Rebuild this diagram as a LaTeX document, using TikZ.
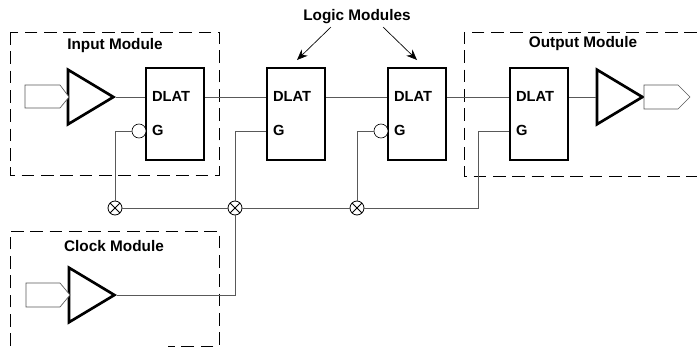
\documentclass[tikz,border=0pt]{standalone}
\usepackage{fontspec}
\setmainfont{Liberation Sans}
\usetikzlibrary{shapes.geometric,arrows.meta}
\tikzset{
  px/.style={x=0.75pt,y=-0.75pt},
  modbox/.style={draw,dash pattern=on 9.5pt off 5pt,line width=0.7pt},
  modlabel/.style={font=\bfseries\fontsize{11.5}{13}\selectfont},
  dlatbox/.style={draw,line width=1.8pt,minimum width=43.5pt,minimum height=69pt,inner sep=0pt},
  pinlabel/.style={font=\bfseries\fontsize{11}{13}\selectfont,inner sep=0pt},
  buffer/.style={draw,isosceles triangle,isosceles triangle apex angle=62,line width=2pt,minimum height=34pt,inner sep=0pt},
  wire/.style={draw=black!65,line width=0.5pt},
  bubble/.style={circle,draw,line width=0.5pt,fill=white,minimum size=10.5pt,inner sep=0pt},
  crossing/.style={circle,draw,line width=0.6pt,minimum size=10.5pt,inner sep=0pt,
    path picture={\draw[line width=0.7pt] (path picture bounding box.north west) -- (path picture bounding box.south east)
      (path picture bounding box.north east) -- (path picture bounding box.south west);}},
  padwire/.style={draw=black!65,line width=0.5pt,fill=white},
}
\begin{document}
\begin{tikzpicture}[px,>={Stealth[length=8pt,width=6.5pt]}]
\useasboundingbox (0,0) rectangle (697,347);
% dashed module frames
\draw[modbox] (10,32) rectangle (219,175);
\draw[modbox] (697,32) -- (464,32) -- (464,176) -- (697,176);
\draw[modbox] (10,346) -- (10,231) -- (219,231) -- (219,346) -- (168,346);
\node[modlabel] (inlabel) at (115,46) {Input Module};
\node[modlabel] (outlabel) at (583,44) {Output Module};
\node[modlabel] (clklabel) at (114,246) {Clock Module};
\node[modlabel] (logiclabel) at (357,17) {Logic Modules};

% latches
\node[dlatbox] (lat1) at (175,114) {};
\node[dlatbox] (lat2) at (296,114) {};
\node[dlatbox] (lat3) at (417,114) {};
\node[dlatbox] (lat4) at (539,114) {};
\foreach \n in {lat1,lat2,lat3,lat4} {
  \node[pinlabel,anchor=west] (\n d) at ([shift={(7,-18)}]\n.center -| \n.west) {DLAT};
  \node[pinlabel,anchor=west] (\n g) at ([shift={(7,16)}]\n.center -| \n.west) {G};
}

% buffers
\node[buffer,anchor=apex] (buf1) at (116,97) {};
\node[buffer,anchor=apex] (buf2) at (117,295) {};
\node[buffer,anchor=apex] (buf3) at (645,97) {};

% pads
\draw[padwire] (25,85) -- (60,85) -- (69,97) -- (60,108) -- (25,108) -- cycle;
\draw[padwire] (26,283) -- (60,283) -- (70,295) -- (60,307) -- (26,307) -- cycle;
\draw[padwire] (644,85) -- (678,85) -- (690,97) -- (678,109) -- (644,109) -- cycle;

% bubbles and bus crossings
\node[bubble] (bub1) at (139,131) {};
\node[bubble] (bub3) at (381,131) {};
\node[crossing] (x1) at (115,208) {};
\node[crossing] (x2) at (235,208) {};
\node[crossing] (x3) at (357,208) {};
\coordinate (gate4) at (478,131);
\coordinate (bus4) at (478,208);
\coordinate (g1) at (115,131);
\coordinate (g2) at (235,131);
\coordinate (g3) at (357,131);
\coordinate (clk) at (235,295);
\coordinate (arrowa) at (331,27);
\coordinate (tipa) at (297,60);
\coordinate (arrowb) at (383,27);
\coordinate (tipb) at (417,60);

% signal wires
\draw[wire] (buf1.apex) -- (buf1.apex -| lat1.west);
\draw[wire] (lat1.east |- 0,97) -- (lat2.west |- 0,97);
\draw[wire] (lat2.east |- 0,97) -- (lat3.west |- 0,97);
\draw[wire] (lat3.east |- 0,97) -- (lat4.west |- 0,97);
\draw[wire] (lat4.east |- 0,97) -- (buf3.west |- 0,97);
\draw[wire] (x1) -- (g1) -- (bub1);
\draw[wire] (x2) -- (g2) -- (g2 -| lat2.west);
\draw[wire] (x3) -- (g3) -- (bub3);
\draw[wire] (x1) -- (x2);
\draw[wire] (x2) -- (x3);
\draw[wire] (x3) -- (bus4) -- (gate4) -- (gate4 -| lat4.west);
\draw[wire] (buf2.apex) -- (clk) -- (x2);

% label arrows
\draw[->,line width=0.5pt] (arrowa) -- (tipa);
\draw[->,line width=0.5pt] (arrowb) -- (tipb);
\end{tikzpicture}
\end{document}
